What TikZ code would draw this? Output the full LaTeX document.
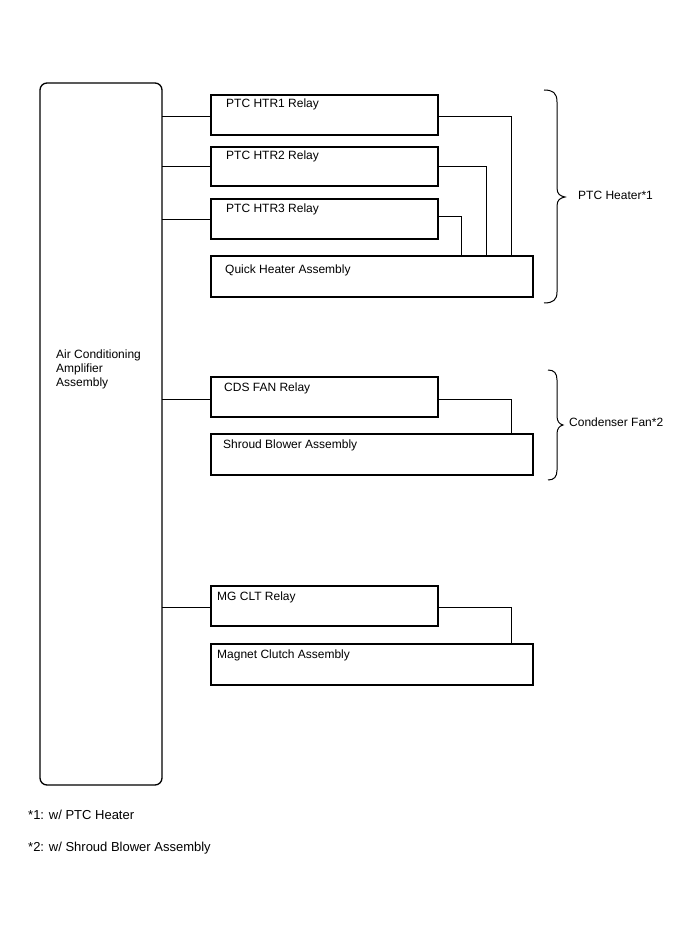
\documentclass[tikz,border=0pt]{standalone}
\usepackage{fontspec}
\setmainfont{Liberation Sans}
\begin{document}
\begin{tikzpicture}[x=1pt,y=-1pt,
  boxst/.style={draw,line width=1.8pt,inner sep=0pt,outer sep=0pt,anchor=north west},
  mainst/.style={draw,line width=1.3pt,rounded corners=7pt,inner sep=0pt,outer sep=0pt,anchor=north west},
  wire/.style={line width=1pt},
  bracest/.style={line width=1pt},
  txt/.style={anchor=base west,inner sep=0pt,font=\fontsize{12}{14}\selectfont},
  fnt/.style={anchor=base west,inner sep=0pt,font=\fontsize{13}{15}\selectfont}]
\useasboundingbox (0,0) rectangle (688,949);
% main box
\node[mainst,minimum width=122pt,minimum height=702pt] (main) at (40,83) {};
\node[txt,align=left,anchor=north west] (mainl) at (56,350) {Air Conditioning\\Amplifier\\Assembly};
% relay boxes
\node[boxst,minimum width=227pt,minimum height=40pt] (r1) at (211,95) {};
\node[boxst,minimum width=227pt,minimum height=39pt] (r2) at (211,147) {};
\node[boxst,minimum width=227pt,minimum height=40pt] (r3) at (211,199) {};
\node[boxst,minimum width=322pt,minimum height=41pt] (qh) at (211,256) {};
\node[boxst,minimum width=227pt,minimum height=40pt] (cds) at (211,377) {};
\node[boxst,minimum width=322pt,minimum height=41pt] (sb) at (211,434) {};
\node[boxst,minimum width=227pt,minimum height=40pt] (mg) at (211,586) {};
\node[boxst,minimum width=322pt,minimum height=41pt] (mc) at (211,644) {};
% labels
\node[txt] (r1l) at (226,108) {PTC HTR1 Relay};
\node[txt] (r2l) at (226,160) {PTC HTR2 Relay};
\node[txt] (r3l) at (226,213) {PTC HTR3 Relay};
\node[txt] (qhl) at (225,273) {Quick Heater Assembly};
\node[txt] (cdsl) at (224,391) {CDS FAN Relay};
\node[txt] (sbl) at (223,448) {Shroud Blower Assembly};
\node[txt] (mgl) at (217,600) {MG CLT Relay};
\node[txt] (mcl) at (217,658) {Magnet Clutch Assembly};
% left connectors
\draw[wire] (main.east |- 0,117) -- (r1.west |- 0,117);
\draw[wire] (main.east |- 0,167) -- (r2.west |- 0,167);
\draw[wire] (main.east |- 0,220) -- (r3.west |- 0,220);
\draw[wire] (main.east |- 0,399) -- (cds.west |- 0,399);
\draw[wire] (main.east |- 0,607) -- (mg.west |- 0,607);
% right connectors
\draw[wire] (r1.east |- 0,117) -| (qh.north -| 511,0);
\draw[wire] (r2.east |- 0,167) -| (qh.north -| 486,0);
\draw[wire] (r3.east |- 0,217) -| (qh.north -| 461,0);
\draw[wire] (cds.east |- 0,399) -| (sb.north -| 511,0);
\draw[wire] (mg.east |- 0,607) -| (mc.north -| 511,0);
% braces
\draw[bracest] (544,90) .. controls (553,90) and (557,93) .. (557,102) -- (557,188)
  .. controls (557,194) and (560,196) .. (565,197)
  .. controls (560,198) and (557,200) .. (557,206) -- (557,292)
  .. controls (557,300) and (553,303) .. (544,303);
\draw[bracest] (548,370) .. controls (554,370) and (557,373) .. (557,380) -- (557,416)
  .. controls (557,421) and (559,424) .. (563,425)
  .. controls (559,426) and (557,429) .. (557,434) -- (557,470)
  .. controls (557,477) and (554,480) .. (548,480);
\node[txt] (ptcl) at (578,200) {PTC Heater*1};
\node[txt] (cfl) at (569,426) {Condenser Fan*2};
% footnotes
\node[fnt] (fn1) at (28,819) {*1: w/ PTC Heater};
\node[fnt] (fn2) at (28,851) {*2: w/ Shroud Blower Assembly};
\end{tikzpicture}
\end{document}
